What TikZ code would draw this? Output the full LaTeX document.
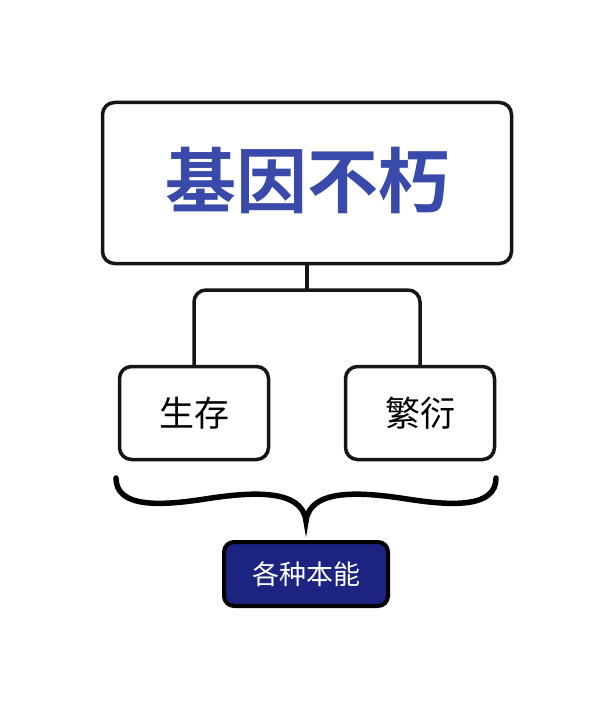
\documentclass[tikz,border=0pt]{standalone}
\usepackage{fontspec}
\newfontfamily\cjk{Noto Sans CJK SC}
\newfontfamily\cjkbold{Noto Sans CJK SC Bold}
\usetikzlibrary{positioning}
\definecolor{titleblue}{RGB}{58,74,170}
\definecolor{navy}{RGB}{28,35,128}
\definecolor{ink}{RGB}{21,21,21}
\begin{document}
\begin{tikzpicture}[x=1pt,y=-1pt,
  topbox/.style={draw=ink,line width=3.5pt,rounded corners=12pt,minimum width=409pt,minimum height=161pt,inner sep=0pt},
  leaf/.style={draw=ink,line width=3.5pt,rounded corners=12pt,minimum width=149pt,minimum height=93pt,inner sep=0pt,font=\cjk\fontsize{35}{40}\selectfont},
  tag/.style={draw=black,line width=4pt,rounded corners=10pt,fill=navy,text=white,minimum width=164pt,minimum height=64pt,inner sep=0pt,font=\cjk\fontsize{27}{32}\selectfont},
  link/.style={draw=ink,line width=3.5pt,rounded corners=12pt}]
\useasboundingbox (0,0) rectangle (612,708);
\node[topbox] (gene) at (307,183) {};
\node[text=titleblue,font=\cjkbold\fontsize{71}{80}\selectfont] (title) at (307,180) {基因不朽};
\node[leaf] (survive) at (194,413) {生存};
\node[leaf] (breed) at (420,413) {繁衍};
\coordinate (split) at (307,290);
\draw[link] (gene.south) -- (split);
\draw[link] (survive.north) |- (split) -| (breed.north);
% brace under the two boxes
\draw[line width=5.5pt,line cap=round] (116,478) .. controls (116,508) and (160,506) .. (205,499)
  .. controls (250,492) and (302,488) .. (306,521)
  .. controls (310,488) and (362,492) .. (407,499)
  .. controls (452,506) and (496,508) .. (496,478);
\node[tag] (instinct) at (306,574) {各种本能};
\end{tikzpicture}
\end{document}
